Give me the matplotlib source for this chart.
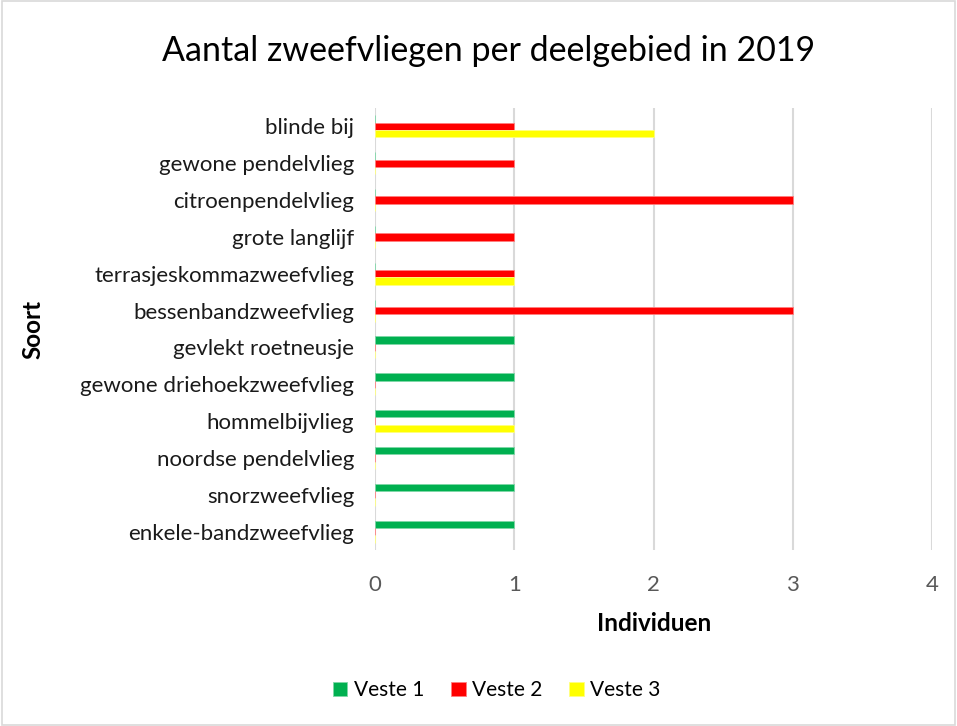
import matplotlib.pyplot as plt
import numpy as np
from matplotlib.patches import Rectangle

soorten = ['blinde bij', 'gewone pendelvlieg', 'citroenpendelvlieg', 'grote langlijf',
           'terrasjeskommazweefvlieg', 'bessenbandzweefvlieg', 'gevlekt roetneusje',
           'gewone driehoekzweefvlieg', 'hommelbijvlieg', 'noordse pendelvlieg',
           'snorzweefvlieg', 'enkele-bandzweefvlieg']
veste1 = [0, 0, 0, 0, 0, 0, 1, 1, 1, 1, 1, 1]
veste2 = [1, 1, 3, 1, 1, 3, 0, 0, 0, 0, 0, 0]
veste3 = [2, 0, 0, 0, 1, 0, 0, 0, 1, 0, 0, 0]
series = ['Veste 1', 'Veste 2', 'Veste 3']
kleuren = ['#00b050', '#ff0000', '#ffff00']
randen = ['#7fd7a7', '#ff8080', '#ffff80']

plt.rcParams['font.family'] = ['Lato', 'DejaVu Sans']

fig = plt.figure(figsize=(9.57, 7.26), dpi=100)
ax = fig.add_axes([0.392, 0.2424, 0.582, 0.6088])

y = np.arange(len(soorten))
h = 0.2
for i, (vals, naam) in enumerate(zip([veste1, veste2, veste3], series)):
    ax.barh(y + (i - 1) * h, vals, height=h, color=kleuren[i], edgecolor=randen[i],
            linewidth=0.6, label=naam, zorder=3)

ax.set_xlim(0, 4)
ax.set_ylim(len(soorten) - 0.5, -0.5)
ax.set_xticks([0, 1, 2, 3, 4])
ax.set_yticks(y)
ax.set_yticklabels(soorten, fontsize=16, color='#1a1a1a')
ax.tick_params(axis='x', labelsize=16, labelcolor='#595959', length=0, pad=18)
ax.tick_params(axis='y', length=0, pad=15)
for s in ax.spines.values():
    s.set_visible(False)
ax.grid(axis='x', color='#d9d9d9', linewidth=1.5, zorder=0)
ax.set_xlabel('Individuen', fontsize=17.5, fontweight='bold')
ax.xaxis.set_label_coords(0.5, -0.14)
ax.set_ylabel('Soort', fontsize=17.5, fontweight='bold')
ax.yaxis.set_label_coords(-0.593, 0.5)

fig.text(0.51, 0.93, 'Aantal zweefvliegen per deelgebied in 2019', ha='center', va='center',
         fontsize=24.5, color='black')

leg = fig.legend(loc='center', bbox_to_anchor=(0.519, 0.049), ncol=3, frameon=False,
                 fontsize=15, handlelength=0.7, handleheight=0.7, handletextpad=0.3,
                 columnspacing=1.3)

fig.patches.append(Rectangle((0.002, 0.002), 0.996, 0.996, transform=fig.transFigure,
                             fill=False, edgecolor='#d9d9d9', linewidth=1.2))

fig.savefig('out.png', dpi=100)
